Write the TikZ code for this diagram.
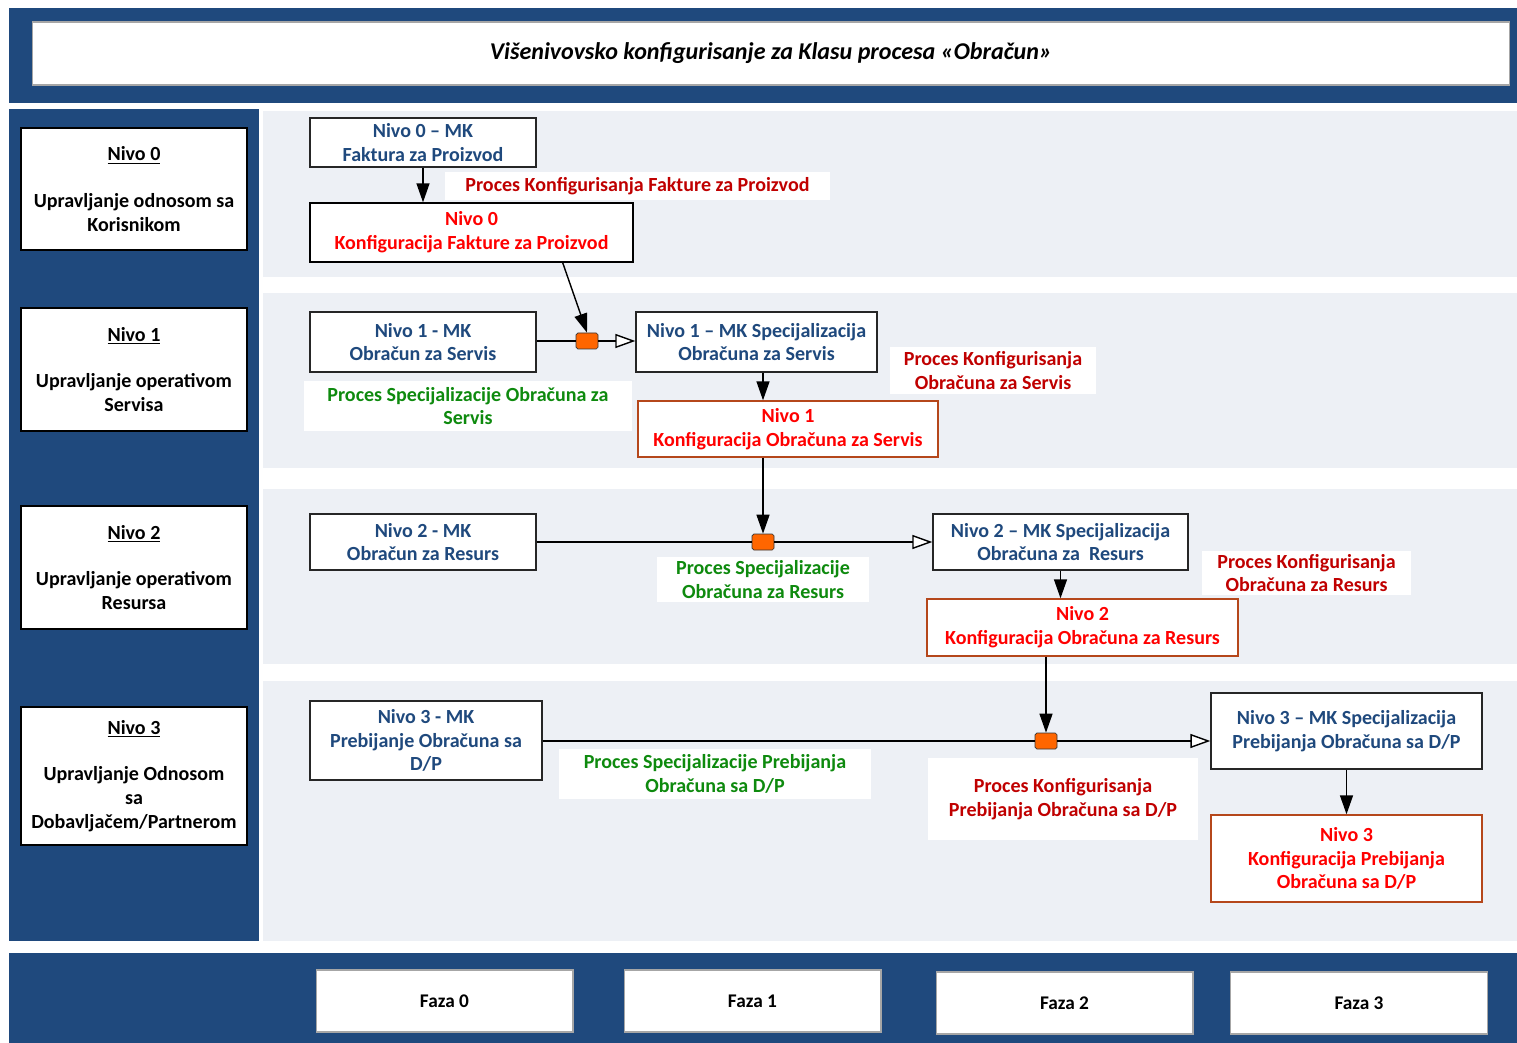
\documentclass[tikz,border=0pt]{standalone}
\usepackage{fontspec}
\setmainfont{Carlito}
\usetikzlibrary{arrows.meta,positioning}
\definecolor{navy}{HTML}{1F497D}
\definecolor{bandgray}{HTML}{EDF0F5}
\definecolor{mkblue}{HTML}{1F497D}
\definecolor{cfgred}{HTML}{FF0000}
\definecolor{procred}{HTML}{C00000}
\definecolor{procgreen}{HTML}{0E8A0E}
\definecolor{cfgbrown}{HTML}{B5471B}
\definecolor{jointorange}{HTML}{FF6600}
\newcommand{\boxfont}{\bfseries\fontsize{11.4}{13.6}\selectfont}
\tikzset{
  levelbox/.style={
    rectangle, draw=black, fill=white, line width=0.8pt,
    minimum width=4.52cm, align=center, text=black,
    font=\boxfont, inner sep=0pt
  },
  mkbox/.style={
    rectangle, draw=black!85, fill=white, line width=0.8pt,
    align=center, text=mkblue, font=\boxfont, inner sep=0pt
  },
  cfgbox/.style={
    rectangle, draw=#1, fill=white, line width=0.8pt,
    align=center, text=cfgred, font=\boxfont, inner sep=0pt
  },
  cfgbox/.default=cfgbrown,
  proclabel/.style={
    rectangle, fill=white, align=center, text=#1,
    font=\boxfont, inner sep=0pt
  },
  proclabel/.default=procred,
  joint/.style={
    rectangle, draw=black!80, fill=jointorange, rounded corners=1pt,
    minimum width=0.44cm, minimum height=0.32cm, inner sep=0pt
  },
  phasebox/.style={
    rectangle, draw=gray!70, fill=white, line width=0.6pt,
    minimum width=5.14cm, minimum height=1.24cm,
    font=\bfseries\fontsize{11}{13}\selectfont, inner sep=0pt
  },
  flowarrow/.style={
    -{Triangle[length=0.38cm, width=0.26cm]}, line width=0.8pt
  },
  specarrow/.style={
    -{Triangle[open, fill=white, length=0.4cm, width=0.28cm]}, line width=0.8pt
  },
}

\begin{document}
\begin{tikzpicture}[x=0.02cm, y=-0.02cm]
\useasboundingbox (0,0) rectangle (1517,1043);
\fill[white] (0,0) rectangle (1517,1043);

% Frame bands
\fill[navy] (9,8) rectangle (1517,103);
\fill[navy] (9,109) rectangle (259,941);
\fill[navy] (9,953) rectangle (1517,1043);
\foreach \ya/\yb in {111/277, 293/468, 489/664, 681/941}
  \fill[bandgray] (263,\ya) rectangle (1517,\yb);

% Title
\node[rectangle, draw=gray!70, fill=white, line width=0.6pt,
  minimum width=29.56cm, minimum height=1.26cm, inner sep=0pt,
  font=\bfseries\itshape\fontsize{13.7}{15}\selectfont] (title) at (771,53.5)
  {Višenivovsko konfigurisanje za Klasu procesa «Obračun»};

% Levels
\node[levelbox, minimum height=2.44cm] (lv0) at (134,189)
  {\underline{Nivo 0}\\[13pt]Upravljanje odnosom sa\\Korisnikom};
\node[levelbox, minimum height=2.46cm] (lv1) at (134,369.5)
  {\underline{Nivo 1}\\[13pt]Upravljanje operativom\\Servisa};
\node[levelbox, minimum height=2.46cm] (lv2) at (134,567.5)
  {\underline{Nivo 2}\\[13pt]Upravljanje operativom\\Resursa};
\node[levelbox, minimum height=2.76cm] (lv3) at (134,776)
  {\underline{Nivo 3}\\[13pt]Upravljanje Odnosom\\sa\\Dobavljačem/Partnerom};

% Row 0
\node[mkbox, minimum width=4.52cm, minimum height=0.98cm] (mk0) at (423,142.5)
  {Nivo 0 – MK\\Faktura za Proizvod};
\node[cfgbox=black, minimum width=6.46cm, minimum height=1.18cm] (k0) at (471.5,232.5)
  {Nivo 0\\Konfiguracija Fakture za Proizvod};
\node[proclabel, minimum width=7.7cm, minimum height=0.56cm] (p0) at (637.5,186)
  {Proces Konfigurisanja Fakture za Proizvod};
\draw[flowarrow] (mk0.south) -- (mk0.south |- k0.north);

% Row 1
\node[mkbox, minimum width=4.52cm, minimum height=1.2cm] (mk1) at (423,342)
  {Nivo 1 - MK\\Obračun za Servis};
\node[joint] (j1) at (587,341) {};
\node[mkbox, minimum width=4.82cm, minimum height=1.2cm] (s1) at (756.5,342)
  {Nivo 1 – MK Specijalizacija\\Obračuna za Servis};
\node[proclabel=procgreen, minimum width=6.56cm, minimum height=1.0cm] (g1) at (468,406)
  {Proces Specijalizacije Obračuna za\\Servis};
\node[proclabel, minimum width=4.12cm, minimum height=0.94cm] (p1) at (993,370.5)
  {Proces Konfigurisanja\\Obračuna za Servis};
\node[cfgbox, minimum width=6.0cm, minimum height=1.12cm] (k1) at (788,429)
  {Nivo 1\\Konfiguracija Obračuna za Servis};

% Row 2
\node[mkbox, minimum width=4.52cm, minimum height=1.12cm] (mk2) at (423,542)
  {Nivo 2 - MK\\Obračun za Resurs};
\node[joint] (j2) at (763,542) {};
\node[mkbox, minimum width=5.1cm, minimum height=1.12cm] (s2) at (1060.5,542)
  {Nivo 2 – MK Specijalizacija\\Obračuna za\ \ Resurs};
\node[proclabel=procgreen, minimum width=4.24cm, minimum height=0.9cm] (g2) at (763,579.5)
  {Proces Specijalizacije\\Obračuna za Resurs};
\node[proclabel, minimum width=4.18cm, minimum height=0.88cm] (p2) at (1306.5,573)
  {Proces Konfigurisanja\\Obračuna za Resurs};
\node[cfgbox, minimum width=6.22cm, minimum height=1.14cm] (k2) at (1082.5,627.5)
  {Nivo 2\\Konfiguracija Obračuna za Resurs};

% Row 3
\node[mkbox, minimum width=4.64cm, minimum height=1.58cm] (mk3) at (426,740.5)
  {Nivo 3 - MK\\Prebijanje Obračuna sa\\D/P};
\node[joint] (j3) at (1046,741) {};
\node[mkbox, minimum width=5.42cm, minimum height=1.52cm] (s3) at (1346.5,731)
  {Nivo 3 – MK Specijalizacija\\Prebijanja Obračuna sa D/P};
\node[proclabel=procgreen, minimum width=6.24cm, minimum height=1.0cm] (g3) at (715,774)
  {Proces Specijalizacije Prebijanja\\Obračuna sa D/P};
\node[proclabel, minimum width=5.4cm, minimum height=1.64cm] (p3) at (1063,799)
  {Proces Konfigurisanja\\Prebijanja Obračuna sa D/P};
\node[cfgbox, minimum width=5.42cm, minimum height=1.74cm] (k3) at (1346.5,858.5)
  {Nivo 3\\Konfiguracija Prebijanja\\Obračuna sa D/P};

% Connectors
\draw[flowarrow] ([xshift=-1.42cm]k0.south east) -- (j1.north);
\draw[line width=0.8pt] (mk1.east |- j1) -- (j1.west);
\draw[specarrow] (j1.east) -- (s1.west |- j1);
\draw[flowarrow] (s1.south -| j2) -- (k1.north -| j2);
\draw[flowarrow] (k1.south -| j2) -- (j2.north);
\draw[line width=0.8pt] (mk2.east |- j2) -- (j2.west);
\draw[specarrow] (j2.east) -- (s2.west |- j2);
\draw[flowarrow] (s2.south) -- (s2.south |- k2.north);
\draw[flowarrow] (k2.south -| j3) -- (j3.north);
\draw[line width=0.8pt] (mk3.east |- j3) -- (j3.west);
\draw[specarrow] (j3.east) -- (s3.west |- j3);
\draw[flowarrow] (s3.south) -- (k3.north);

% Phases
\node[phasebox] (f0) at (444.5,1001) {Faza 0};
\node[phasebox] (f1) at (752.5,1001) {Faza 1};
\node[phasebox] (f2) at (1064.5,1003) {Faza 2};
\node[phasebox] (f3) at (1359,1003) {Faza 3};

\end{tikzpicture}
\end{document}
